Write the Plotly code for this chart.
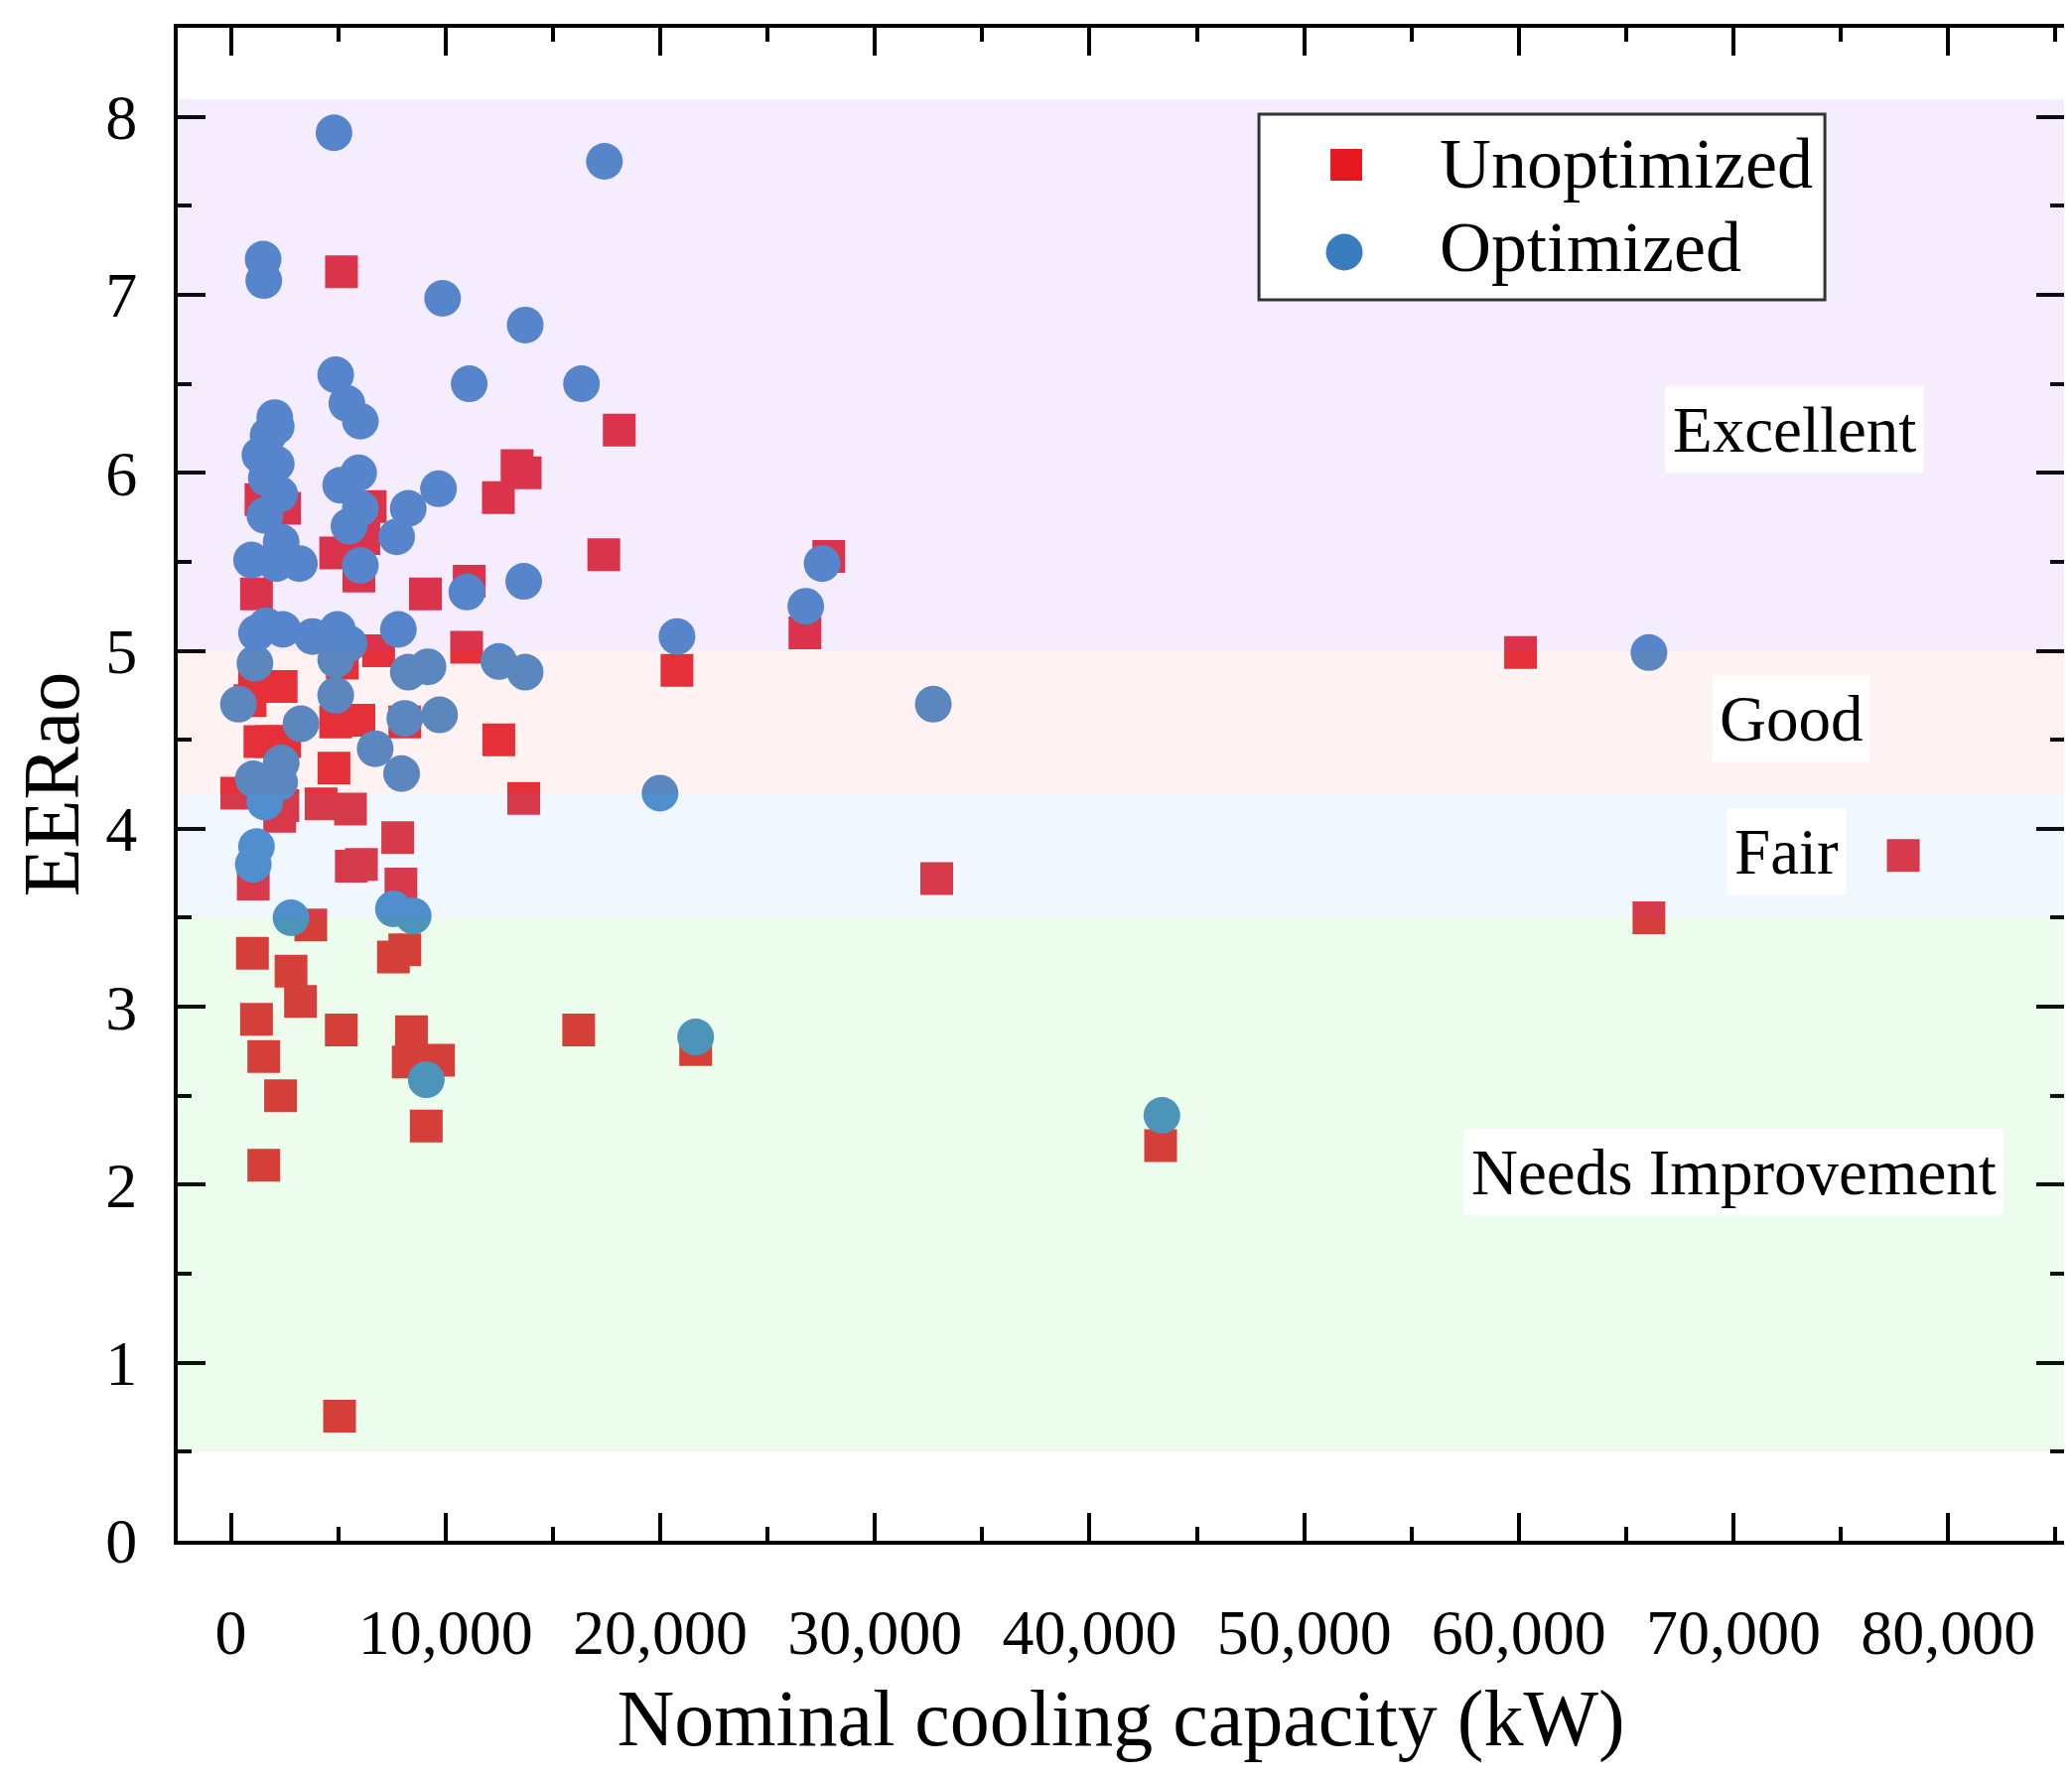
import plotly.graph_objects as go

# Unoptimized chillers (red squares)
unopt_x = [5150, 18090, 13330, 13710, 12460, 17370, 27850, 2500, 1400, 6490,
           6190, 4880, 5960, 1190, 9060, 11100, 10980, 26740, 20780, 60080,
           6880, 5190, 1100, 2340, 890, 1350, 1880, 2500, 4880, 5960,
           4800, 8100, 12480, 13640, 5570, 4200, 270, 2420, 2270, 7770,
           1040, 5610, 6080, 7920, 3720, 1000, 2800, 3240, 7570, 8100,
           1190, 5140, 8410, 8260, 9670, 1530, 2310, 9100, 1530, 16200,
           5060, 21650, 32880, 43310, 66060, 77910]
unopt_y = [7.13, 6.24, 6.04, 6.00, 5.86, 5.54, 5.53, 5.80, 5.85, 5.81,
           5.63, 5.55, 5.42, 5.32, 5.32, 5.39, 5.02, 5.10, 4.89, 4.99,
           5.00, 4.93, 4.88, 4.80, 4.72, 4.49, 4.49, 4.49, 4.60, 4.61,
           4.34, 4.60, 4.50, 4.17, 4.11, 4.14, 4.20, 4.13, 4.07, 3.95,
           3.69, 3.79, 3.80, 3.69, 3.46, 3.30, 3.20, 3.03, 3.28, 3.32,
           2.93, 2.87, 2.86, 2.69, 2.70, 2.72, 2.50, 2.33, 2.11, 2.87,
           0.70, 2.76, 3.72, 2.22, 3.50, 3.85]

# Optimized chillers (blue circles)
opt_x = [4800, 17400, 1500, 1530, 9860, 13710, 4880, 11100, 16330, 5400,
         6030, 2040, 2110, 1730, 1350, 2110, 1650, 2270, 1580, 2340,
         960, 2110, 3190, 5950, 5110, 6030, 5500, 6030, 8260, 7720,
         9670, 10990, 13640, 27540, 26780, 20780, 1650, 1190, 2420, 3800,
         4960, 5500, 7800, 1120, 4880, 8260, 9180, 12480, 13710, 66060,
         350, 4880, 32720, 3260, 8100, 9720, 6720, 7950, 2340, 1040,
         2270, 1580, 19990, 1190, 1040, 2800, 7570, 8490, 9100, 21650,
         43370]
opt_y = [7.91, 7.75, 7.20, 7.08, 6.98, 6.83, 6.55, 6.50, 6.50, 6.39,
         6.29, 6.31, 6.26, 6.21, 6.10, 6.05, 5.97, 5.88, 5.76, 5.61,
         5.51, 5.49, 5.49, 6.00, 5.93, 5.80, 5.70, 5.48, 5.80, 5.64,
         5.91, 5.33, 5.39, 5.49, 5.25, 5.08, 5.14, 5.10, 5.12, 5.08,
         5.12, 5.04, 5.12, 4.93, 4.95, 4.88, 4.91, 4.94, 4.88, 4.99,
         4.70, 4.75, 4.70, 4.59, 4.62, 4.64, 4.45, 4.31, 4.37, 4.28,
         4.26, 4.15, 4.20, 3.90, 3.80, 3.50, 3.55, 3.51, 2.59, 2.83,
         2.39]

# rating bands
band_names = ["Excellent", "Good", "Fair", "Needs Improvement"]
band_low = [5.0, 4.2, 3.5, 0.5]
band_high = [8.1, 5.0, 4.2, 3.5]
band_fill = ["rgba(160,80,240,0.10)", "rgba(255,60,60,0.065)",
             "rgba(90,170,255,0.09)", "rgba(60,230,60,0.09)"]
label_x = [72860, 72660, 72470, 70000]
label_y = [6.24, 4.62, 3.87, 2.07]

FONT = "Liberation Serif, Times New Roman, serif"

fig = go.Figure()
fig.add_trace(go.Scatter(x=unopt_x, y=unopt_y, mode="markers", name="Unoptimized",
                         marker=dict(symbol="square", size=33, color="rgb(228,48,58)",
                                     line=dict(width=0))))
fig.add_trace(go.Scatter(x=opt_x, y=opt_y, mode="markers", name="Optimized",
                         marker=dict(symbol="circle", size=37, color="rgb(80,140,200)",
                                     line=dict(width=0))))

shapes = []
for lo, hi, col in zip(band_low, band_high, band_fill):
    shapes.append(dict(type="rect", xref="paper", yref="y", x0=0, x1=1, y0=lo, y1=hi,
                       fillcolor=col, line=dict(width=0), layer="above"))

# hand drawn legend so the symbols can be as big as in the original
shapes.append(dict(type="rect", xref="paper", yref="paper", x0=0.5732, x1=0.8732,
                   y0=0.8202, y1=0.9429, fillcolor="white",
                   line=dict(color="#333333", width=3), layer="above"))
shapes.append(dict(type="rect", xref="paper", yref="paper", x0=0.6111, x1=0.6279,
                   y0=0.8990, y1=0.9199, fillcolor="rgb(230,25,35)",
                   line=dict(width=0), layer="above"))
shapes.append(dict(type="circle", xref="paper", yref="paper", x0=0.6087, x1=0.6282,
                   y0=0.8396, y1=0.8638, fillcolor="rgb(58,125,190)",
                   line=dict(width=0), layer="above"))

annotations = []
for name, lx, ly in zip(band_names, label_x, label_y):
    annotations.append(dict(x=lx, y=ly, xref="x", yref="y", text=name, showarrow=False,
                            font=dict(family=FONT, size=65, color="black"),
                            bgcolor="white", borderpad=7))
annotations.append(dict(x=0.668, y=0.910, xref="paper", yref="paper", text="Unoptimized",
                        showarrow=False, xanchor="left", yanchor="middle",
                        font=dict(family=FONT, size=72, color="black")))
annotations.append(dict(x=0.668, y=0.855, xref="paper", yref="paper", text="Optimized",
                        showarrow=False, xanchor="left", yanchor="middle",
                        font=dict(family=FONT, size=72, color="black")))

axis_common = dict(showline=True, linecolor="black", linewidth=4, mirror="allticks",
                   ticks="inside", ticklen=28, tickwidth=4, tickcolor="black",
                   showgrid=False, zeroline=False,
                   tickfont=dict(family=FONT, size=64, color="black"))

fig.update_layout(
    width=2087, height=1792,
    margin=dict(l=171, r=16, t=20, b=248),
    paper_bgcolor="white", plot_bgcolor="white",
    showlegend=False,
    shapes=shapes, annotations=annotations,
    xaxis=dict(range=[-2480, 85400], dtick=10000, tick0=0, tickformat=",d",
               minor=dict(dtick=5000, ticks="inside", ticklen=14, tickwidth=4,
                          tickcolor="black"),
               title=dict(text="Nominal cooling capacity (kW)",
                          font=dict(family=FONT, size=80, color="black"), standoff=24),
               ticklabelstandoff=33,
               **axis_common),
    yaxis=dict(range=[0, 8.5], dtick=1, tick0=0,
               minor=dict(dtick=0.5, ticks="inside", ticklen=14, tickwidth=4,
                          tickcolor="black"),
               title=dict(text="EERao",
                          font=dict(family=FONT, size=80, color="black"), standoff=30),
               ticklabelstandoff=24,
               **axis_common),
)

fig.write_html("out.html")
